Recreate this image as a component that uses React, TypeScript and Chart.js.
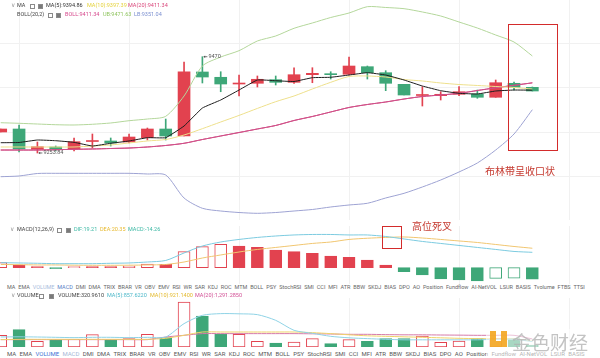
import React, { useEffect, useRef } from 'react';
import { Chart, registerables } from 'chart.js';

Chart.register(...registerables);

// ---------------- data ----------------
const candleIndex = [0, 1, 2, 3, 4, 5, 6, 7, 8, 9, 10, 11, 12, 13, 14, 15, 16, 17, 18, 19, 20, 21, 22, 23, 24, 25, 26, 27, 28, 29];

const opens = [9301.0, 9307.7, 9262.1, 9267.3, 9262.8, 9279.6, 9280.8, 9278.5, 9288.2, 9307.7, 9292.0, 9435.7, 9423.8, 9408.7, 9410.3, 9418.4, 9412.5, 9429.6, 9431.8, 9430.5, 9447.6, 9434.1, 9408.0, 9382.9, 9382.5, 9385.6, 9386.3, 9378.9, 9410.3, 9401.3];
const highs = [9307.7, 9316.7, 9278.5, 9269.5, 9287.5, 9296.5, 9287.5, 9296.5, 9309.9, 9330.1, 9458.1, 9470.0, 9436.3, 9428.9, 9426.7, 9426.7, 9445.3, 9445.3, 9436.3, 9469.3, 9449.1, 9438.6, 9408.0, 9402.7, 9391.4, 9402.7, 9395.2, 9417.7, 9413.2, 9402.0];
const lows = [9301.0, 9256.1, 9253.84, 9258.3, 9258.3, 9265.0, 9269.5, 9276.3, 9283.0, 9283.0, 9292.0, 9411.0, 9391.4, 9381.8, 9402.0, 9406.5, 9410.3, 9411.6, 9419.9, 9428.9, 9419.9, 9393.7, 9384.0, 9359.3, 9372.8, 9382.5, 9376.6, 9378.9, 9395.2, 9393.0];
const closes = [9307.7, 9262.8, 9268.0, 9262.8, 9279.2, 9280.8, 9276.3, 9289.7, 9307.7, 9292.0, 9436.3, 9424.4, 9408.7, 9410.3, 9419.3, 9412.5, 9429.6, 9432.7, 9429.6, 9449.1, 9434.1, 9410.3, 9384.0, 9384.0, 9385.6, 9391.4, 9378.9, 9411.6, 9401.3, 9393.0];

const ma5 = [9276.9, 9277.4, 9283.0, 9281.4, 9277.8, 9269.5, 9275.6, 9280.8, 9288.2, 9288.2, 9314.4, 9354.8, 9372.8, 9395.2, 9417.7, 9416.1, 9414.3, 9422.9, 9423.8, 9428.9, 9434.1, 9428.9, 9417.7, 9404.2, 9393.7, 9387.8, 9386.3, 9393.0, 9395.2, 9394.86];
const ma10 = [9267.3, 9267.3, 9267.3, 9267.3, 9267.3, 9269.5, 9271.8, 9276.3, 9280.8, 9284.1, 9294.2, 9308.4, 9323.4, 9338.2, 9353.9, 9369.0, 9381.8, 9397.5, 9412.5, 9425.6, 9426.7, 9424.4, 9418.8, 9415.5, 9411.0, 9407.6, 9405.4, 9403.1, 9400.9, 9397.39];
const ma20 = [9260.5, 9260.5, 9260.5, 9261.2, 9262.1, 9262.8, 9263.9, 9265.0, 9267.3, 9270.7, 9275.6, 9284.1, 9292.0, 9299.8, 9307.7, 9315.6, 9326.8, 9335.8, 9345.9, 9356.0, 9362.7, 9368.3, 9375.0, 9380.7, 9384.0, 9387.8, 9394.1, 9400.2, 9405.8, 9411.34];
const bollMid = ma20;
const bollUpper = [9321.8, 9320.5, 9318.9, 9317.3, 9316.7, 9318.3, 9321.2, 9326.3, 9330.1, 9336.2, 9381.8, 9449.1, 9469.3, 9483.5, 9505.3, 9516.5, 9533.8, 9545.7, 9558.0, 9568.1, 9582.3, 9580.5, 9577.8, 9570.4, 9561.4, 9547.9, 9534.4, 9518.7, 9503.0, 9471.63];
const bollLower = [9200.6, 9202.2, 9207.8, 9208.2, 9208.2, 9208.2, 9208.2, 9208.2, 9206.7, 9204.4, 9152.8, 9129.7, 9123.6, 9120.2, 9118.4, 9120.2, 9123.6, 9127.0, 9132.6, 9137.1, 9140.9, 9152.8, 9163.3, 9177.5, 9193.2, 9211.2, 9231.4, 9260.5, 9296.5, 9351.04];

const macdDif = [6.3, 5.9, 5.5, 5.0, 5.0, 5.0, 5.5, 5.9, 7.1, 9.0, 18.4, 27.1, 32.1, 35.3, 37.8, 39.6, 40.9, 41.5, 41.5, 40.9, 40.9, 39.0, 35.9, 32.8, 30.3, 27.8, 25.3, 22.8, 20.3, 19.21];
const macdDea = [4.0, 3.8, 3.4, 3.4, 3.1, 3.0, 3.0, 3.1, 3.4, 4.0, 7.1, 12.1, 15.9, 19.6, 22.8, 25.3, 27.8, 30.3, 32.1, 35.3, 36.8, 37.8, 38.4, 37.1, 35.3, 33.4, 31.5, 29.0, 26.5, 24.3];
const macdHist = [6.3, 3.4, 1.3, -0.8, 1.3, 1.3, 1.3, 2.1, 4.6, 4.3, 20.0, 26.3, 29.3, 27.1, 25.5, 22.1, 20.0, 18.0, 14.6, 13.0, 9.6, 3.4, -5.0, -9.1, -14.1, -15.4, -16.6, -13.3, -13.0, -14.26];

const volumes = [1870, 2780, 910, 1180, 1230, 1980, 1180, 1340, 2030, 1500, 7200, 4960, 2030, 2030, 910, 640, 800, 1340, 540, 1180, 910, 1340, 1340, 1760, 750, 960, 1340, 1390, 1340, 320.961];
const volMa5 = [1600, 1630, 1600, 1550, 1500, 1550, 1550, 1500, 1550, 1600, 3740, 5070, 5340, 5310, 5180, 4270, 2670, 2190, 1710, 1470, 1340, 1230, 1150, 1150, 1150, 1150, 1150, 1230, 1230, 857.622];
const volMa10 = [1180, 1230, 1230, 1230, 1230, 1230, 1230, 1230, 1230, 1390, 1870, 2400, 2400, 2400, 2400, 2400, 2400, 2300, 2140, 1950, 1790, 1710, 1630, 1550, 1470, 1390, 1340, 1310, 1280, 921.14];
const volMa20 = [1180, 1180, 1180, 1180, 1180, 1180, 1180, 1180, 1180, 1600, 1870, 2140, 2140, 2140, 2140, 2140, 2140, 2110, 2080, 2030, 2030, 1980, 1950, 1950, 1920, 1900, 1870, 1870, 1870, 1291.285];

const gridCandles = [4, 10, 16, 22, 28];
const priceGrid = [9200, 9300, 9400, 9500];

const indicatorTabs = ['MA', 'EMA', 'VOLUME', 'MACD', 'DMI', 'DMA', 'TRIX', 'BRAR', 'VR', 'OBV', 'EMV', 'RSI', 'WR', 'SAR', 'KDJ', 'ROC', 'MTM', 'BOLL', 'PSY', 'StochRSI', 'SMI', 'CCI', 'MFI', 'ATR', 'BBW', 'SKDJ', 'BIAS', 'DPO', 'AO', 'Position', 'Fundflow', 'AI-NetVOL', 'LSUR', 'BASIS', 'Tvolume', 'FTBS', 'TTSI'];
const indicatorTabsBottom = ['MA', 'EMA', 'VOLUME', 'MACD', 'DMI', 'DMA', 'TRIX', 'BRAR', 'VR', 'OBV', 'EMV', 'RSI', 'WR', 'SAR', 'KDJ', 'ROC', 'MTM', 'BOLL', 'PSY', 'StochRSI', 'SMI', 'CCI', 'MFI', 'ATR', 'BBW', 'SKDJ', 'BIAS', 'DPO', 'AO', 'Position', 'Fundflow', 'AI-NetVOL', 'LSUR', 'BASIS'];

// ---------------- style ----------------
const UP = '#e2424f';
const DOWN = '#3ea778';
const GRID = '#f1f1f1';
const FONT = "Roboto, 'Noto Sans', Arial, sans-serif";
const CJK = "'Noto Sans CJK SC', 'Noto Sans', sans-serif";
const X_MIN = -0.04;
const X_MAX = 32.69;

function scalesFor(yMin: number, yMax: number, yGrid: number[]) {
  return {
    x: {
      type: 'linear', min: X_MIN, max: X_MAX, offset: false,
      ticks: { display: false },
      grid: { color: GRID, drawTicks: false },
      border: { display: false },
      afterBuildTicks: (s: any) => { s.ticks = gridCandles.map((v) => ({ value: v })); },
    },
    y: {
      type: 'linear', min: yMin, max: yMax,
      ticks: { display: false },
      grid: { color: GRID, drawTicks: false },
      border: { display: false },
      afterBuildTicks: (s: any) => { s.ticks = yGrid.map((v) => ({ value: v })); },
    },
  };
}

const baseOptions = {
  animation: false,
  responsive: false,
  maintainAspectRatio: false,
  devicePixelRatio: 1,
  layout: { padding: 0 },
  events: [],
  plugins: { legend: { display: false }, tooltip: { enabled: false } },
};

function line(data: number[], color: string, order: number, tension = 0.25) {
  return {
    type: 'line',
    data: candleIndex.map((i) => ({ x: i, y: data[i] })),
    borderColor: color,
    borderWidth: 1,
    pointRadius: 0,
    fill: false,
    tension,
    order,
  };
}

function T({ x, y, color = '#555', size = 5.5, children, font = FONT }: any) {
  return (
    <span style={{ position: 'absolute', left: x, top: y, transform: 'translateY(-50%)', color, fontSize: size, fontFamily: font, lineHeight: 1, whiteSpace: 'nowrap' }}>{children}</span>
  );
}

function Box({ x, y, dark }: any) {
  return (
    <span style={{ position: 'absolute', left: x, top: y - 2.5, width: 5, height: 5, boxSizing: 'border-box', border: '0.8px solid #8a8a8a', background: dark ? '#7a7a7a' : '#fff' }} />
  );
}

export default function App() {
  const mainRef = useRef<HTMLCanvasElement>(null);
  const macdRef = useRef<HTMLCanvasElement>(null);
  const volRef = useRef<HTMLCanvasElement>(null);

  useEffect(() => {
    document.body.style.margin = '0';
    const charts: Chart[] = [];
    const isUp = candleIndex.map((i) => closes[i] >= opens[i]);
    const candleColors = isUp.map((u) => (u ? UP : DOWN));

    const extremes = {
      id: 'extremes',
      afterDatasetsDraw(chart: any) {
        const { ctx } = chart;
        const xs = chart.scales.x;
        const ys = chart.scales.y;
        let hi = 0;
        let lo = 0;
        highs.forEach((v, i) => { if (v > highs[hi]) hi = i; });
        lows.forEach((v, i) => { if (v < lows[lo]) lo = i; });
        const draw = (i: number, v: number) => {
          const px = xs.getPixelForValue(i);
          const py = ys.getPixelForValue(v);
          ctx.save();
          ctx.strokeStyle = '#555';
          ctx.fillStyle = '#555';
          ctx.lineWidth = 0.8;
          ctx.beginPath();
          ctx.moveTo(px + 1.5, py);
          ctx.lineTo(px + 5, py);
          ctx.stroke();
          ctx.beginPath();
          ctx.moveTo(px + 1, py);
          ctx.lineTo(px + 2.8, py - 1.3);
          ctx.lineTo(px + 2.8, py + 1.3);
          ctx.closePath();
          ctx.fill();
          ctx.font = `5.5px ${FONT}`;
          ctx.textBaseline = 'middle';
          ctx.fillText(String(v), px + 6, py);
          ctx.restore();
        };
        draw(hi, highs[hi]);
        draw(lo, lows[lo]);
      },
    };

    charts.push(new Chart(mainRef.current as HTMLCanvasElement, {
      type: 'bar',
      data: {
        datasets: [
          {
            type: 'bar',
            data: candleIndex.map((i) => ({ x: i, y: [lows[i], highs[i]] })),
            backgroundColor: candleColors,
            borderWidth: 0,
            barThickness: 1,
            grouped: false,
            order: 6,
          },
          {
            type: 'bar',
            data: candleIndex.map((i) => ({ x: i, y: [opens[i], closes[i]] })),
            backgroundColor: candleColors,
            borderWidth: 0,
            barThickness: 12,
            minBarLength: 1,
            grouped: false,
            order: 5,
          },
          line(bollUpper, '#b4d79b', 4),
          line(bollLower, '#9ea3d3', 4),
          line(bollMid, '#cf4f8a', 3),
          line(ma20, '#d2497a', 3),
          line(ma10, '#eee08c', 2),
          line(ma5, '#1e1e1e', 1, 0.1),
        ],
      },
      options: { ...baseOptions, scales: scalesFor(9103.4, 9597.3, priceGrid) },
      plugins: [extremes],
    } as any));

    const histUp = macdHist.map((v, i) => (i === 0 ? true : v > macdHist[i - 1]));
    const histColor = macdHist.map((v) => (v >= 0 ? UP : DOWN));
    const histFill = macdHist.map((v, i) => (histUp[i] ? '#ffffff' : histColor[i]));

    charts.push(new Chart(macdRef.current as HTMLCanvasElement, {
      type: 'bar',
      data: {
        datasets: [
          {
            type: 'bar',
            data: candleIndex.map((i) => ({ x: i, y: macdHist[i] })),
            backgroundColor: histFill,
            borderColor: histColor,
            borderWidth: 1,
            borderSkipped: false,
            barThickness: 12,
            minBarLength: 1,
            grouped: false,
            order: 3,
          },
          line(macdDea, '#f1c670', 2),
          line(macdDif, '#7ccbe0', 1),
        ],
      },
      options: { ...baseOptions, scales: scalesFor(-20.4, 52.1, []) },
    } as any));

    const volColor = isUp.map((u) => (u ? UP : DOWN));
    const volFill = isUp.map((u) => (u ? '#ffffff' : DOWN));

    charts.push(new Chart(volRef.current as HTMLCanvasElement, {
      type: 'bar',
      data: {
        datasets: [
          {
            type: 'bar',
            data: candleIndex.map((i) => ({ x: i, y: volumes[i] })),
            backgroundColor: volFill,
            borderColor: volColor,
            borderWidth: 1,
            borderSkipped: false,
            barThickness: 12,
            grouped: false,
            order: 4,
          },
          line(volMa20, '#d67aa8', 3),
          line(volMa10, '#efd36a', 2),
          line(volMa5, '#8fd3e6', 1),
        ],
      },
      options: { ...baseOptions, scales: scalesFor(0, 7840, []) },
    } as any));

    return () => charts.forEach((c) => c.destroy());
  }, []);

  return (
    <div style={{ position: 'fixed', left: 0, top: 0, width: 600, height: 358, overflow: 'hidden', background: '#fff', fontFamily: FONT }}>
      <canvas ref={mainRef} width={600} height={220} style={{ position: 'absolute', left: 0, top: 0, width: 600, height: 220 }} />
      <canvas ref={macdRef} width={600} height={58} style={{ position: 'absolute', left: 0, top: 226, width: 600, height: 58 }} />
      <canvas ref={volRef} width={600} height={49} style={{ position: 'absolute', left: 0, top: 298, width: 600, height: 49 }} />

      {/* main legend */}
      <T x={11} y={6} color="#999">∨</T>
      <T x={17} y={6} color="#444">MA</T>
      <Box x={30} y={6} />
      <Box x={38} y={6} dark />
      <T x={46} y={6} color="#333">MA(5):9394.86</T>
      <T x={87} y={6} color="#e5d23a">MA(10):9397.39</T>
      <T x={128} y={6} color="#d9467a">MA(20):9411.34</T>
      <T x={17} y={15} color="#444">BOLL(20,2)</T>
      <Box x={48} y={15} />
      <Box x={56} y={15} dark />
      <T x={65} y={15} color="#d6488c">BOLL:9411.34</T>
      <T x={103} y={15} color="#8fc45f">UB:9471.63</T>
      <T x={134} y={15} color="#7b8fd0">LB:9351.04</T>

      {/* MACD legend */}
      <T x={10} y={230} color="#999">∨</T>
      <T x={17} y={230} color="#444">MACD(12,26,9)</T>
      <Box x={57} y={230} />
      <Box x={66} y={230} dark />
      <T x={74} y={230} color="#3bb8a4">DIF:19.21</T>
      <T x={100} y={230} color="#e7b92f">DEA:20.35</T>
      <T x={128} y={230} color="#3bb8a4">MACD:-14.26</T>

      {/* indicator tabs row 1 */}
      <div style={{ position: 'absolute', left: 7, top: 288, width: 578, transform: 'translateY(-50%)', display: 'flex', justifyContent: 'space-between', fontSize: 5.5, lineHeight: 1, color: '#666', whiteSpace: 'nowrap' }}>
        {indicatorTabs.map((t) => (
          <span key={t} style={{ color: t === 'VOLUME' ? '#a9bcdc' : t === 'MACD' ? '#5b80c8' : '#666' }}>{t}</span>
        ))}
      </div>

      {/* Volume legend */}
      <T x={11} y={296} color="#999">∨</T>
      <T x={17} y={296} color="#444">VOLUME</T>
      <Box x={39} y={296} />
      <Box x={49} y={296} dark />
      <T x={58} y={296} color="#444">VOLUME:320.9610</T>
      <T x={107} y={296} color="#4db8c9">MA(5):857.6220</T>
      <T x={150} y={296} color="#e3b92c">MA(10):921.1400</T>
      <T x={195} y={296} color="#d24f95">MA(20):1,291.2850</T>

      {/* indicator tabs row 2 */}
      <div style={{ position: 'absolute', left: 7, top: 354, width: 578, transform: 'translateY(-50%)', display: 'flex', justifyContent: 'space-between', fontSize: 6, lineHeight: 1, color: '#555', whiteSpace: 'nowrap' }}>
        {indicatorTabsBottom.map((t) => (
          <span key={t} style={{ color: t === 'VOLUME' ? '#3b6fd4' : t === 'MACD' ? '#a6b6d6' : '#555' }}>{t}</span>
        ))}
      </div>

      {/* annotations */}
      <div style={{ position: 'absolute', left: 508, top: 24, width: 50, height: 127, boxSizing: 'border-box', border: '1.5px solid #d32b2b' }} />
      <T x={485} y={171} size={10} color="#c5392f" font={CJK}>布林带呈收口状</T>
      <div style={{ position: 'absolute', left: 382, top: 226, width: 20, height: 23, boxSizing: 'border-box', border: '1.5px solid #d32b2b' }} />
      <T x={412} y={226} size={10} color="#c5392f" font={CJK}>高位死叉</T>

      {/* watermark */}
      <div style={{ position: 'absolute', left: 486, top: 329, width: 114, height: 29, background: 'rgba(255,255,255,0.55)' }} />
      <div style={{ position: 'absolute', left: 490, top: 331, width: 6, height: 10, background: '#f3a51f', opacity: 0.9 }} />
      <div style={{ position: 'absolute', left: 490, top: 341, width: 17, height: 6, background: '#f3a51f', opacity: 0.9 }} />
      <div style={{ position: 'absolute', left: 501, top: 331, width: 6, height: 10, background: '#f3a51f', opacity: 0.9 }} />
      <T x={512} y={341} size={19} color="rgba(175,175,175,0.75)" font={CJK}>金色财经</T>
    </div>
  );
}
